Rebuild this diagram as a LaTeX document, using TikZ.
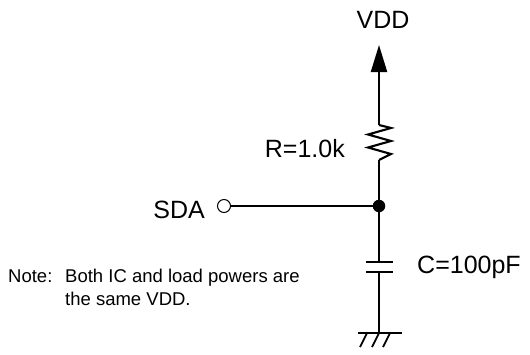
\documentclass[tikz,border=0pt]{standalone}
\usepackage{fontspec}
\setmainfont{Liberation Sans}
\usetikzlibrary{arrows.meta,calc,positioning}

\begin{document}
\begin{tikzpicture}[x=1pt, y=-1pt,
    wire/.style={line width=2.1pt},
    lbl/.style={font=\fontsize{25}{30}\selectfont, inner sep=0pt},
    notelbl/.style={font=\fontsize{18.5}{23}\selectfont, inner sep=0pt}]
    \useasboundingbox[fill=white] (0,0) rectangle (530,354);

    % Supply arrow
    \node[lbl, anchor=base] (vdd) at (383,28) {VDD};
    \coordinate (vddtip) at (379,45);
    \coordinate (rtop) at (379,125);
    \coordinate (rbot) at (379,160);
    \draw[wire, -{Triangle[width=16pt,length=27pt]}] (rtop) -- (vddtip);

    % Resistor
    \draw[wire, line join=miter] (rtop) -- ++(12,3) -- ++(-23,6.5) -- ++(23,6.5) -- ++(-23,6.5) -- ++(23,6.5) -- (rbot);
    \node[lbl, anchor=base east] (rlbl) at (345,157) {R=1.0k};

    % Junction and SDA pin
    \node[circle, fill, inner sep=0pt, minimum size=12.5pt] (jn) at (379,206) {};
    \node[circle, draw, line width=1pt, inner sep=0pt, minimum size=13pt] (sdapin) at (224,206) {};
    \node[lbl, anchor=base east] (sda) at (205,218) {SDA};
    \draw[wire] (rbot) -- (jn);
    \draw[wire] (sdapin) -- (jn);

    % Capacitor
    \coordinate (ctop) at (379,262);
    \coordinate (cbot) at (379,272);
    \draw[wire] (jn) -- (ctop);
    \draw[wire] ($(ctop)+(-13,0)$) -- ($(ctop)+(14,0)$);
    \draw[wire] ($(cbot)+(-13,0)$) -- ($(cbot)+(14,0)$);
    \node[lbl, anchor=base west] (clbl) at (417,273) {C=100pF};

    % Ground
    \coordinate (gnd) at (379,333);
    \draw[wire] (cbot) -- (gnd);
    \draw[wire] ($(gnd)+(-21,0)$) -- ($(gnd)+(23,0)$);
    \foreach \dx in {-19,-7,4}
        \draw[line width=1.8pt] ($(gnd)+(\dx,14)$) -- ++(7,-14);

    % Note
    \node[notelbl, anchor=base west] (note) at (8,282) {Note:};
    \node[notelbl, anchor=base west] (noteA) at (65,282) {Both IC and load powers are};
    \node[notelbl, anchor=base west] (noteB) at (65,305) {the same VDD.};
\end{tikzpicture}
\end{document}
